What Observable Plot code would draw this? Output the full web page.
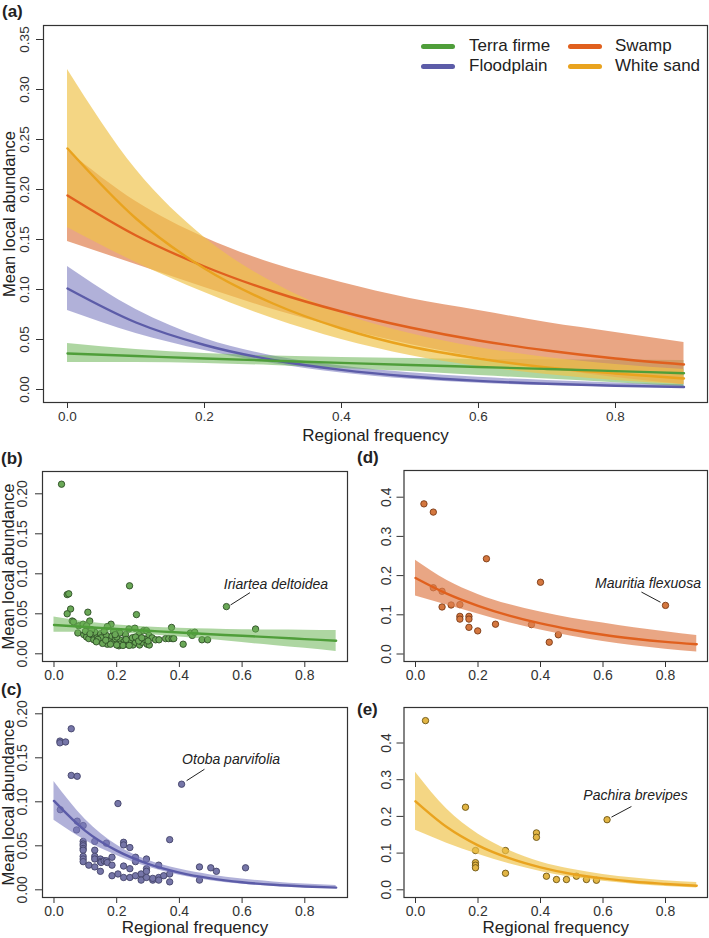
<!DOCTYPE html>
<html><head><meta charset="utf-8">
<script src="https://cdn.jsdelivr.net/npm/d3@7"></script>
<script src="https://cdn.jsdelivr.net/npm/@observablehq/plot@0.6"></script>
<style>
body{margin:0;background:#fff;font-family:"Liberation Sans",Arial,sans-serif;}
#root{position:relative;width:709px;height:938px;overflow:hidden;background:#fff;}
.panel{position:absolute;}
.plab{position:absolute;font-weight:bold;font-size:17px;color:#222;line-height:20px;}
.legtxt{position:absolute;font-size:17px;color:#222;line-height:20px;white-space:nowrap;}
.sw{position:absolute;width:34px;height:5px;border-radius:3px;}
</style></head><body><div id="root"></div>
<script>
// ---- data ----
const freq = [0, 0.1, 0.2, 0.3, 0.4, 0.5, 0.6, 0.7, 0.8, 0.9];
const habitats = ["Terra firme", "Floodplain", "Swamp", "White sand"];

const terraFit  = [0.036, 0.0335, 0.031, 0.0288, 0.0266, 0.0245, 0.0225, 0.0205, 0.0184, 0.0163];
const terraLow  = [0.027, 0.027, 0.026, 0.024, 0.021, 0.018, 0.014, 0.0105, 0.0068, 0.003];
const terraHigh = [0.046, 0.040, 0.036, 0.0335, 0.032, 0.031, 0.030, 0.0298, 0.0295, 0.029];

const floodFit  = [0.101, 0.067, 0.0445, 0.0295, 0.0196, 0.013, 0.0086, 0.0057, 0.0038, 0.0025];
const floodLow  = [0.079, 0.056, 0.039, 0.026, 0.0165, 0.0102, 0.0063, 0.0039, 0.0024, 0.0014];
const floodHigh = [0.123, 0.080, 0.051, 0.0335, 0.0235, 0.0168, 0.0122, 0.0090, 0.0066, 0.0048];

const swampFit  = [0.194, 0.154, 0.123, 0.098, 0.078, 0.062, 0.049, 0.039, 0.031, 0.025];
const swampLow  = [0.148, 0.125, 0.102, 0.080, 0.061, 0.045, 0.032, 0.021, 0.012, 0.005];
const swampHigh = [0.239, 0.188, 0.152, 0.126, 0.107, 0.091, 0.079, 0.067, 0.057, 0.047];

const sandFit  = [0.241, 0.171, 0.121, 0.086, 0.061, 0.043, 0.031, 0.022, 0.016, 0.011];
const sandLow  = [0.162, 0.127, 0.097, 0.071, 0.050, 0.034, 0.023, 0.015, 0.009, 0.005];
const sandHigh = [0.320, 0.220, 0.152, 0.107, 0.076, 0.056, 0.042, 0.032, 0.025, 0.020];

const terraPts = [[0.024,0.212],[0.042,0.074],[0.047,0.075],[0.241,0.085],[0.053,0.056],[0.042,0.050],[0.108,0.052],[0.263,0.049],[0.550,0.059],[0.058,0.041],[0.062,0.040],[0.079,0.035],[0.093,0.037],[0.114,0.041],[0.104,0.035],[0.076,0.026],[0.095,0.024],[0.104,0.021],[0.111,0.019],[0.122,0.0235],[0.127,0.0175],[0.138,0.021],[0.148,0.025],[0.148,0.0166],[0.159,0.019],[0.167,0.023],[0.170,0.0145],[0.180,0.0175],[0.182,0.037],[0.185,0.022],[0.170,0.034],[0.190,0.0145],[0.196,0.019],[0.207,0.010],[0.212,0.017],[0.222,0.0145],[0.228,0.024],[0.233,0.012],[0.239,0.031],[0.244,0.0175],[0.252,0.011],[0.258,0.032],[0.260,0.0145],[0.271,0.024],[0.273,0.011],[0.281,0.0145],[0.286,0.029],[0.295,0.029],[0.297,0.012],[0.303,0.023],[0.304,0.011],[0.313,0.020],[0.324,0.0175],[0.335,0.0175],[0.356,0.019],[0.366,0.019],[0.375,0.033],[0.377,0.019],[0.382,0.019],[0.412,0.012],[0.435,0.026],[0.441,0.023],[0.449,0.027],[0.472,0.0175],[0.490,0.0175],[0.643,0.031],[0.13,0.027],[0.15,0.020],[0.16,0.028],[0.20,0.021],[0.21,0.026],[0.19,0.028],[0.14,0.018],[0.17,0.012],[0.23,0.018],[0.25,0.020],[0.12,0.030],[0.10,0.028],[0.18,0.012],[0.21,0.012],[0.22,0.0105],[0.26,0.021],[0.27,0.016],[0.29,0.018],[0.155,0.013],[0.195,0.024],[0.24,0.0105],[0.30,0.016],[0.28,0.020],[0.20,0.011],[0.115,0.025],[0.135,0.015],[0.165,0.017]];

const floodPts = [[0.019,0.169],[0.019,0.167],[0.037,0.168],[0.055,0.183],[0.055,0.130],[0.074,0.129],[0.407,0.120],[0.204,0.098],[0.020,0.091],[0.074,0.078],[0.072,0.068],[0.093,0.073],[0.093,0.055],[0.093,0.052],[0.093,0.050],[0.093,0.047],[0.093,0.045],[0.093,0.038],[0.093,0.035],[0.093,0.032],[0.111,0.028],[0.130,0.055],[0.130,0.045],[0.130,0.038],[0.130,0.035],[0.130,0.026],[0.148,0.035],[0.148,0.032],[0.148,0.021],[0.150,0.031],[0.160,0.033],[0.167,0.033],[0.170,0.031],[0.167,0.053],[0.185,0.028],[0.185,0.016],[0.185,0.037],[0.204,0.018],[0.222,0.054],[0.222,0.051],[0.222,0.027],[0.222,0.014],[0.242,0.048],[0.242,0.024],[0.242,0.014],[0.260,0.037],[0.260,0.032],[0.260,0.016],[0.278,0.018],[0.278,0.011],[0.295,0.035],[0.295,0.024],[0.295,0.021],[0.295,0.014],[0.315,0.011],[0.315,0.013],[0.334,0.028],[0.334,0.014],[0.334,0.011],[0.350,0.016],[0.369,0.057],[0.369,0.018],[0.369,0.009],[0.464,0.026],[0.464,0.011],[0.500,0.025],[0.518,0.021],[0.611,0.025]];

const swampPts = [[0.027,0.383],[0.057,0.362],[0.227,0.243],[0.400,0.183],[0.800,0.124],[0.057,0.169],[0.085,0.160],[0.085,0.120],[0.114,0.125],[0.142,0.126],[0.142,0.096],[0.142,0.089],[0.171,0.096],[0.171,0.089],[0.171,0.068],[0.199,0.059],[0.256,0.076],[0.371,0.075],[0.428,0.030],[0.457,0.049]];

const sandPts = [[0.032,0.461],[0.160,0.225],[0.192,0.107],[0.192,0.074],[0.192,0.067],[0.192,0.060],[0.288,0.107],[0.288,0.045],[0.387,0.155],[0.387,0.143],[0.419,0.037],[0.451,0.028],[0.483,0.028],[0.515,0.037],[0.547,0.028],[0.579,0.026],[0.613,0.191]];

const speciesNames = ["Iriartea deltoidea", "Otoba parvifolia", "Mauritia flexuosa", "Pachira brevipes"];
const xTicks = [0, 0.2, 0.4, 0.6, 0.8];
const yTicksA = [0, 0.05, 0.10, 0.15, 0.20, 0.25, 0.30, 0.35];
const yTicksBC = [0, 0.05, 0.10, 0.15, 0.20];
const yTicksDE = [0, 0.1, 0.2, 0.3, 0.4];

// ---- styling ----
const FONT = '"Liberation Sans", Arial, Helvetica, sans-serif';
const col = {
  "Terra firme": {line: "#4f9e3a", band: "#6cb556", bandOp: 0.55, pt: "#6aa857", ptStroke: "#2f4f27"},
  "Floodplain":  {line: "#5c5ca8", band: "#7d7dc0", bandOp: 0.6,  pt: "#7676a8", ptStroke: "#44446a"},
  "Swamp":       {line: "#e0601e", band: "#df8050", bandOp: 0.7,  pt: "#d4773f", ptStroke: "#7a3a15"},
  "White sand":  {line: "#e9a31f", band: "#efc24a", bandOp: 0.68, pt: "#e2b544", ptStroke: "#6a5212"}
};
const series = {
  "Terra firme": {fit: terraFit, lo: terraLow, hi: terraHigh, pts: terraPts},
  "Floodplain":  {fit: floodFit, lo: floodLow, hi: floodHigh, pts: floodPts},
  "Swamp":       {fit: swampFit, lo: swampLow, hi: swampHigh, pts: swampPts},
  "White sand":  {fit: sandFit,  lo: sandLow,  hi: sandHigh,  pts: sandPts}
};
function rows(h) {
  const s = series[h];
  return freq.map((f, i) => ({f, fit: s.fit[i], lo: s.lo[i], hi: s.hi[i], h}));
}
function bandMark(h) {
  return Plot.areaY(rows(h), {x: "f", y1: "lo", y2: "hi", fill: col[h].band, fillOpacity: col[h].bandOp, curve: "monotone-x"});
}
function lineMark(h) {
  return Plot.line(rows(h), {x: "f", y: "fit", stroke: col[h].line, strokeWidth: 2.4, curve: "monotone-x"});
}
function ptMark(h) {
  return Plot.dot(series[h].pts, {x: d => d[0], y: d => d[1], r: 3.2, fill: col[h].pt, stroke: col[h].ptStroke, strokeWidth: 0.9});
}

function axes(cfg) {
  const m = [
    Plot.frame({stroke: "#333", strokeWidth: 1.2}),
    Plot.axisX({ticks: xTicks, tickSize: 6, tickPadding: 3, tickFormat: d3.format(".1f"), fontSize: cfg.tf, label: null, stroke: "#333", fill: "#333"}),
    Plot.axisY({ticks: cfg.yt, tickSize: 7, tickFormat: () => "", label: null, stroke: "#333"}),
    Plot.text(cfg.yt, {y: d => d, frameAnchor: "left", dx: -cfg.yo, text: d => d3.format(cfg.yf)(d), rotate: -90, textAnchor: "middle", lineAnchor: "middle", fontSize: cfg.tf, fill: "#333"})
  ];
  if (cfg.ytitle) m.push(Plot.text(["Mean local abundance"], {frameAnchor: "left", dx: -cfg.yto, rotate: -90, textAnchor: "middle", lineAnchor: "middle", fontSize: 16.5, fill: "#222"}));
  if (cfg.xtitle) m.push(Plot.text(["Regional frequency"], {frameAnchor: "bottom", dy: cfg.xto, textAnchor: "middle", lineAnchor: "middle", fontSize: 17, fill: "#222"}));
  return m;
}
function annot(name, tx, ty, x1, y1, x2, y2) {
  return [
    Plot.text([name], {x: () => tx, y: () => ty, text: d => d, textAnchor: "middle", lineAnchor: "middle", fontStyle: "italic", fontSize: 14, fill: "#222"}),
    Plot.link([name], {x1: () => x1, y1: () => y1, x2: () => x2, y2: () => y2, stroke: "#222", strokeWidth: 1})
  ];
}

function place(svg, left, top) {
  const div = document.createElement("div");
  div.className = "panel";
  div.style.left = left + "px";
  div.style.top = top + "px";
  div.appendChild(svg);
  document.getElementById("root").appendChild(div);
}
function label(txt, left, top) {
  const d = document.createElement("div");
  d.className = "plab"; d.textContent = txt;
  d.style.left = left + "px"; d.style.top = top + "px";
  document.getElementById("root").appendChild(d);
}
const baseStyle = {fontFamily: FONT, background: "transparent", overflow: "visible"};

// ---- panel (a) ----
place(Plot.plot({
  width: 709, height: 450, marginLeft: 43, marginRight: 2, marginTop: 25, marginBottom: 48,
  x: {domain: [-0.03504, 0.93431], axis: null},
  y: {domain: [-0.013, 0.364], axis: null},
  style: baseStyle,
  marks: [
    bandMark("Floodplain"), bandMark("Terra firme"), bandMark("Swamp"), bandMark("White sand"),
    lineMark("Floodplain"), lineMark("Swamp"), lineMark("White sand"), lineMark("Terra firme"),
    ...axes({yt: yTicksA, yf: ".2f", yo: 19, tf: 13.5, ytitle: true, yto: 34, xtitle: true, xto: 33})
  ]
}), 0, 0);

// ---- panel (b) ----
const xdSmallL = [-0.03668, 0.93620];
place(Plot.plot({
  width: 355, height: 240, marginLeft: 42, marginRight: 8, marginTop: 26, marginBottom: 24,
  x: {domain: xdSmallL, axis: null},
  y: {domain: [-0.009625, 0.227875], axis: null},
  style: baseStyle,
  marks: [
    ptMark("Terra firme"), bandMark("Terra firme"), lineMark("Terra firme"),
    ...annot(speciesNames[0], 0.708, 0.0866, 0.563, 0.061, 0.625, 0.0764),
    ...axes({yt: yTicksBC, yf: ".2f", yo: 20, tf: 14, ytitle: true, yto: 33.5, xtitle: false})
  ]
}), 0, 445);

// ---- panel (c) ----
place(Plot.plot({
  width: 355, height: 253, marginLeft: 42, marginRight: 8, marginTop: 22, marginBottom: 41,
  x: {domain: xdSmallL, axis: null},
  y: {domain: [-0.00875, 0.20716], axis: null},
  style: baseStyle,
  marks: [
    ptMark("Floodplain"), bandMark("Floodplain"), lineMark("Floodplain"),
    ...annot(speciesNames[1], 0.565, 0.148, 0.423, 0.124, 0.48, 0.137),
    ...axes({yt: yTicksBC, yf: ".2f", yo: 20, tf: 14, ytitle: true, yto: 33.5, xtitle: true, xto: 30})
  ]
}), 0, 685);

// ---- panel (d) ----
const xdSmallR = [-0.0368, 0.9344];
place(Plot.plot({
  width: 355, height: 240, marginLeft: 49.5, marginRight: 2, marginTop: 25, marginBottom: 24,
  x: {domain: xdSmallR, axis: null},
  y: {domain: [-0.01913, 0.46811], axis: null},
  style: baseStyle,
  marks: [
    ptMark("Swamp"), bandMark("Swamp"), lineMark("Swamp"),
    ...annot(speciesNames[2], 0.744, 0.179, 0.723, 0.158, 0.784, 0.132),
    ...axes({yt: yTicksDE, yf: ".1f", yo: 17, tf: 14, ytitle: false, xtitle: false})
  ]
}), 354, 445);

// ---- panel (e) ----
place(Plot.plot({
  width: 355, height: 253, marginLeft: 49.5, marginRight: 2, marginTop: 22, marginBottom: 41,
  x: {domain: xdSmallR, axis: null},
  y: {domain: [-0.02098, 0.49673], axis: null},
  style: baseStyle,
  marks: [
    ptMark("White sand"), bandMark("White sand"), lineMark("White sand"),
    ...annot(speciesNames[3], 0.704, 0.257, 0.627, 0.198, 0.691, 0.227),
    ...axes({yt: yTicksDE, yf: ".1f", yo: 17, tf: 14, ytitle: false, xtitle: true, xto: 30})
  ]
}), 354, 685);

// ---- panel letters ----
label("(a)", 2, 2);
label("(b)", 1, 449);
label("(c)", 1, 680);
label("(d)", 357, 448);
label("(e)", 357, 700);

// ---- legend in panel (a) ----
const legPos = [
  {h: habitats[0], sx: 421, tx: 469, y: 46},
  {h: habitats[2], sx: 568, tx: 615, y: 46},
  {h: habitats[1], sx: 421, tx: 469, y: 66},
  {h: habitats[3], sx: 568, tx: 615, y: 66}
];
const root = document.getElementById("root");
for (const L of legPos) {
  const s = document.createElement("div");
  s.className = "sw";
  s.style.left = L.sx + "px"; s.style.top = (L.y - 2.5) + "px";
  s.style.background = col[L.h].line;
  root.appendChild(s);
  const t = document.createElement("div");
  t.className = "legtxt"; t.textContent = L.h;
  t.style.left = L.tx + "px"; t.style.top = (L.y - 10) + "px";
  root.appendChild(t);
}
</script></body></html>
